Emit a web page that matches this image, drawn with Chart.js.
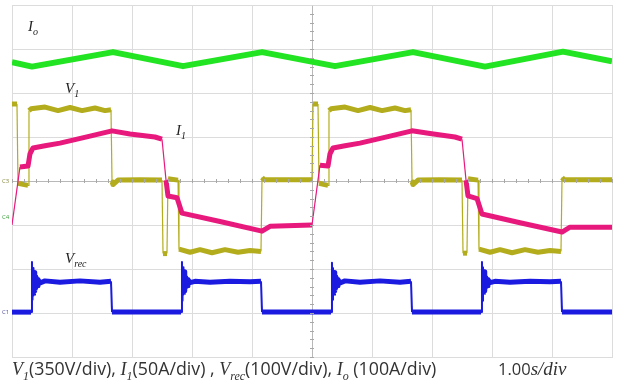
<!DOCTYPE html>
<html>
<head>
<meta charset="utf-8">
<script src="https://cdn.jsdelivr.net/npm/chart.js@4/dist/chart.umd.min.js"></script>
<style>
  html, body { margin: 0; padding: 0; background: #fff; }
</style>
</head>
<body>
<canvas id="scope" width="618" height="384"></canvas>
<script>
// time in s (1.00 s/div), amplitude in screen divisions
const v1Time = [0, 0.083, 0.1, 0.267, 0.283, 0.317, 0.55, 0.767, 0.967, 1.167, 1.383, 1.55, 1.65, 1.667, 1.683, 1.767, 2.133, 2.5,
  2.517, 2.583, 2.6, 2.767, 2.783, 2.967, 3.133, 3.333, 3.55, 3.767, 3.967, 4.15, 4.167, 4.2, 5.0,
  5.017, 5.1, 5.117, 5.267, 5.283, 5.317, 5.55, 5.767, 5.967, 6.167, 6.383, 6.55, 6.65, 6.667, 6.683, 6.767, 7.133, 7.5,
  7.517, 7.583, 7.6, 7.767, 7.783, 7.967, 8.133, 8.333, 8.55, 8.767, 8.967, 9.15, 9.167, 9.2, 10];
const v1Vals = [1.75, 1.75, -0.05, -0.1, 1.6, 1.64, 1.68, 1.6, 1.67, 1.6, 1.66, 1.6, 1.62, -0.02, -0.08, 0.02, 0.03, 0.02,
  -1.65, -1.65, 0.05, 0.02, -1.55, -1.62, -1.56, -1.63, -1.56, -1.62, -1.58, -1.6, 0.08, 0.03, 0.03,
  1.75, 1.75, -0.05, -0.1, 1.6, 1.64, 1.68, 1.6, 1.67, 1.6, 1.66, 1.6, 1.62, -0.02, -0.08, 0.02, 0.03, 0.02,
  -1.64, -1.64, 0.05, 0.02, -1.55, -1.62, -1.56, -1.63, -1.56, -1.62, -1.58, -1.6, 0.08, 0.03, 0.03];

const i1Time = [0, 0.133, 0.267, 0.3, 0.35, 0.55, 0.8, 1.3, 1.667, 1.967, 2.383, 2.5, 2.567, 2.6, 2.75, 2.833, 3.467, 4.167, 4.3, 5.0,
  5.133, 5.267, 5.3, 5.35, 5.55, 5.8, 6.3, 6.667, 6.967, 7.383, 7.5, 7.567, 7.6, 7.75, 7.833, 8.467, 9.167, 9.3, 10];
const i1Vals = [-1.0, 0.32, 0.34, 0.62, 0.75, 0.8, 0.86, 1.02, 1.14, 1.07, 1.0, 0.95, 0.02, -0.34, -0.38, -0.73, -0.92, -1.14, -1.03, -1.0,
  0.36, 0.34, 0.62, 0.75, 0.8, 0.86, 1.02, 1.14, 1.08, 1.0, 0.95, 0.02, -0.34, -0.4, -0.75, -0.95, -1.16, -1.05, -1.05];

const vrecTime = [0,
  0.317, 0.333, 0.342, 0.35, 0.358, 0.367, 0.375, 0.383, 0.392, 0.4, 0.417, 0.433, 0.467, 0.55, 0.8, 1.133, 1.467, 1.65, 1.667,
  2.817, 2.833, 2.842, 2.85, 2.858, 2.867, 2.875, 2.883, 2.892, 2.9, 2.917, 2.933, 2.967, 3.05, 3.3, 3.633, 3.967, 4.15, 4.167,
  5.317, 5.333, 5.342, 5.35, 5.358, 5.367, 5.375, 5.383, 5.392, 5.4, 5.417, 5.433, 5.467, 5.55, 5.8, 6.133, 6.467, 6.65, 6.667,
  7.817, 7.833, 7.842, 7.85, 7.858, 7.867, 7.875, 7.883, 7.892, 7.9, 7.917, 7.933, 7.967, 8.05, 8.3, 8.633, 8.967, 9.15, 9.167,
  10];
const vrecVals = [-2.98,
  -2.98, -1.84, -2.7, -1.98, -2.6, -2.08, -2.5, -2.14, -2.44, -2.18, -2.38, -2.24, -2.32, -2.27, -2.3, -2.27, -2.3, -2.28, -2.98,
  -2.98, -1.84, -2.72, -1.96, -2.58, -2.06, -2.5, -2.14, -2.42, -2.2, -2.38, -2.24, -2.31, -2.28, -2.3, -2.28, -2.29, -2.28, -2.98,
  -2.98, -1.86, -2.7, -1.98, -2.6, -2.08, -2.5, -2.14, -2.44, -2.18, -2.38, -2.24, -2.32, -2.27, -2.3, -2.27, -2.3, -2.28, -2.98,
  -2.98, -1.84, -2.72, -1.96, -2.58, -2.06, -2.5, -2.14, -2.42, -2.2, -2.38, -2.24, -2.31, -2.28, -2.3, -2.28, -2.29, -2.28, -2.98,
  -2.98];

const ioTime = [0, 0.333, 1.683, 2.85, 4.167, 5.383, 6.683, 7.883, 9.183, 10];
const ioVals = [2.70, 2.60, 2.93, 2.61, 2.93, 2.61, 2.93, 2.60, 2.94, 2.72];

const xTicks = [0, 1, 2, 3, 4, 5, 6, 7, 8, 9, 10];
const yTicks = [-4, -3, -2, -1, 0, 1, 2, 3, 4];

function pts(t, v) { return t.map((x, i) => ({ x: x, y: v[i] })); }

// fast edges are drawn thin, like on the scope screen
function edgeWidth(thick) {
  return ctx => (Math.abs(ctx.p1.x - ctx.p0.x) < 9 && Math.abs(ctx.p1.y - ctx.p0.y) > 20) ? 1.2 : thick;
}

const serif = '"Liberation Serif"';
const sans = '"Open Sans"';

function richText(c, x, y, runs, size, rmSize) {
  runs.forEach(r => {
    let dy = 0;
    if (r.k === 'i') c.font = 'italic ' + size + 'px ' + serif;
    else if (r.k === 'sub') { c.font = 'italic ' + Math.round(size * 0.65) + 'px ' + serif; dy = size * 0.28; }
    else c.font = (rmSize || size - 1) + 'px ' + sans;
    c.fillText(r.t, x, y + dy);
    x += c.measureText(r.t).width;
  });
  return x;
}

const scopeDecor = {
  id: 'scopeDecor',
  afterDraw(chart) {
    const c = chart.ctx;
    const sx = chart.scales.x, sy = chart.scales.y;
    c.save();
    // minor ticks on the centre lines
    c.strokeStyle = '#a8a8a8';
    c.lineWidth = 1;
    const y0 = sy.getPixelForValue(0), x0 = sx.getPixelForValue(5);
    c.beginPath();
    for (let t = 0; t <= 10; t += 0.2) {
      const px = Math.round(sx.getPixelForValue(t)) + 0.5;
      c.moveTo(px, y0 - 2); c.lineTo(px, y0 + 2);
    }
    for (let t = -4; t <= 4; t += 0.2) {
      const py = Math.round(sy.getPixelForValue(t)) + 0.5;
      c.moveTo(x0 - 2, py); c.lineTo(x0 + 2, py);
    }
    c.stroke();

    // channel markers
    c.font = '6px ' + sans;
    c.textBaseline = 'middle';
    c.fillStyle = '#8a8a40'; c.fillText('C3', 2, y0);
    c.fillStyle = '#40a040'; c.fillText('C4', 2, sy.getPixelForValue(-0.82));
    c.fillStyle = '#5050a0'; c.fillText('C1', 2, sy.getPixelForValue(-2.98));

    // trace labels
    c.textBaseline = 'alphabetic';
    c.fillStyle = '#222';
    richText(c, 28, 31, [{ t: 'I', k: 'i' }, { t: 'o', k: 'sub' }], 15);
    richText(c, 65, 93, [{ t: 'V', k: 'i' }, { t: '1', k: 'sub' }], 15);
    richText(c, 176, 135, [{ t: 'I', k: 'i' }, { t: '1', k: 'sub' }], 15);
    richText(c, 65, 263, [{ t: 'V', k: 'i' }, { t: 'rec', k: 'sub' }], 15);

    // caption
    c.fillStyle = '#333';
    richText(c, 12, 375, [
      { t: 'V', k: 'i' }, { t: '1', k: 'sub' }, { t: '(350V/div), ', k: 'r' },
      { t: 'I', k: 'i' }, { t: '1', k: 'sub' }, { t: '(50A/div) , ', k: 'r' },
      { t: 'V', k: 'i' }, { t: 'rec', k: 'sub' }, { t: '(100V/div), ', k: 'r' },
      { t: 'I', k: 'i' }, { t: 'o', k: 'sub' }, { t: ' (100A/div)', k: 'r' }
    ], 18, 17.8);
    richText(c, 498, 375, [{ t: '1.00', k: 'r' }, { t: 's/div', k: 'i' }], 19, 16.5);
    c.restore();
  }
};

const gridColor = ctx => (ctx.tick && ctx.tick.value === 0) ? '#b8b8b8' : '#dcdcdc';
const xGridColor = ctx => (ctx.tick && ctx.tick.value === 5) ? '#b8b8b8' : '#dcdcdc';

new Chart(document.getElementById('scope').getContext('2d'), {
  type: 'line',
  data: {
    datasets: [
      { label: 'I1', data: pts(i1Time, i1Vals), borderColor: '#e8197c', borderWidth: 5, segment: { borderWidth: edgeWidth(5) } },
      { label: 'V1', data: pts(v1Time, v1Vals), borderColor: '#b3ad1e', borderWidth: 5, segment: { borderWidth: edgeWidth(5) } },
      { label: 'Vrec', data: pts(vrecTime, vrecVals), borderColor: '#1a1ae0', borderWidth: 5, segment: { borderWidth: ctx => (Math.abs(ctx.p1.y - ctx.p0.y) > 27 && Math.abs(ctx.p1.x - ctx.p0.x) < 2) ? 2 : 5 } },
      { label: 'Io', data: pts(ioTime, ioVals), borderColor: '#22e422', borderWidth: 6 }
    ]
  },
  options: {
    responsive: false,
    animation: false,
    layout: { padding: { left: 12, right: 6, top: 5, bottom: 27 } },
    elements: {
      point: { radius: 0 },
      line: { tension: 0, fill: false, borderCapStyle: 'butt', borderJoinStyle: 'round' }
    },
    plugins: { legend: { display: false }, tooltip: { enabled: false } },
    scales: {
      x: {
        type: 'linear', min: 0, max: 10,
        afterBuildTicks: s => { s.ticks = xTicks.map(v => ({ value: v })); },
        ticks: { display: false },
        grid: { color: xGridColor, drawTicks: false },
        border: { display: true, color: '#dcdcdc' }
      },
      y: {
        type: 'linear', min: -4, max: 4,
        afterBuildTicks: s => { s.ticks = yTicks.map(v => ({ value: v })); },
        ticks: { display: false },
        grid: { color: gridColor, drawTicks: false },
        border: { display: true, color: '#dcdcdc' }
      }
    }
  },
  plugins: [scopeDecor]
});
</script>
</body>
</html>
